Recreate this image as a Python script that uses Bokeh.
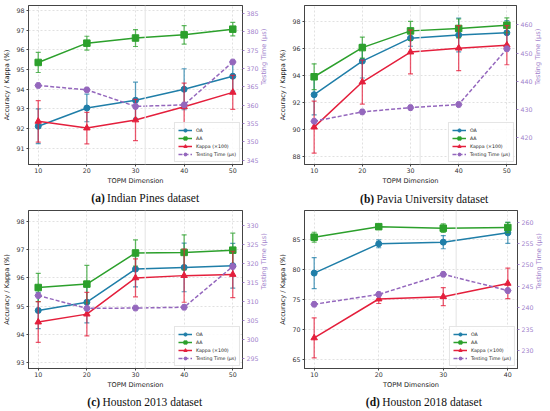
import math
from bokeh.plotting import figure
from bokeh.models import Range1d, LinearAxis, FixedTicker, Legend, LegendItem, Span
from bokeh.core.properties import value
from bokeh.layouts import column, row
from bokeh.embed import file_html
from bokeh.resources import INLINE

# ---------------- data ----------------
dims = [10, 20, 30, 40, 50]
dims_2018 = [10, 20, 30, 40]
marked_dim = 32

# (a) Indian Pines
ip_oa = [92.12, 93.05, 93.44, 94.00, 94.66]
ip_oa_err = [0.88, 0.70, 0.92, 1.04, 0.76]
ip_aa = [95.36, 96.34, 96.60, 96.76, 97.05]
ip_aa_err = [0.51, 0.35, 0.43, 0.47, 0.34]
ip_kappa = [92.37, 92.03, 92.44, 93.11, 93.84]
ip_kappa_err = [1.05, 0.80, 1.05, 1.20, 0.86]
ip_time = [365.4, 364.2, 359.7, 360.1, 371.8]

# (b) Pavia University
pu_oa = [92.55, 95.04, 96.74, 96.97, 97.14]
pu_oa_err = [1.50, 1.25, 0.60, 1.25, 0.90]
pu_aa = [93.88, 96.04, 97.28, 97.46, 97.70]
pu_aa_err = [0.96, 0.78, 0.70, 0.70, 0.55]
pu_kappa = [90.15, 93.49, 95.71, 96.00, 96.22]
pu_kappa_err = [1.93, 1.63, 1.62, 1.67, 1.45]
pu_time = [425.9, 429.2, 430.7, 431.8, 451.5]

# (c) Houston 2013
h13_oa = [94.85, 95.14, 96.31, 96.37, 96.43]
h13_oa_err = [0.64, 0.73, 0.63, 0.86, 0.79]
h13_aa = [95.66, 95.78, 96.88, 96.90, 96.98]
h13_aa_err = [0.50, 0.66, 0.46, 0.62, 0.60]
h13_kappa = [94.44, 94.72, 96.00, 96.08, 96.12]
h13_kappa_err = [0.72, 0.77, 0.67, 0.94, 0.82]
h13_time = [311.6, 308.2, 308.3, 308.5, 319.3]

# (d) Houston 2018
h18_oa = [79.44, 84.33, 84.61, 86.17]
h18_oa_err = [2.60, 0.65, 1.10, 1.75]
h18_aa = [85.44, 87.20, 86.94, 87.06]
h18_aa_err = [0.83, 0.30, 0.72, 0.86]
h18_kappa = [68.61, 75.11, 75.50, 77.72]
h18_kappa_err = [3.35, 0.75, 1.50, 2.55]
h18_time = [240.8, 243.1, 247.8, 244.0]

# tick labels
ticks_a_left = [91, 92, 93, 94, 95, 96, 97, 98]
ticks_a_right = [345, 350, 355, 360, 365, 370, 375, 380, 385]
ticks_b_left = [88, 90, 92, 94, 96, 98]
ticks_b_right = [420, 430, 440, 450, 460]
ticks_c_left = [93, 94, 95, 96, 97, 98]
ticks_c_right = [295, 300, 305, 310, 315, 320, 325, 330]
ticks_d_left = [65, 70, 75, 80, 85]
ticks_d_right = [230, 235, 240, 245, 250, 255, 260]

series_labels = ["OA", "AA", "Kappa (\u00d7100)", "Testing Time (\u03bcs)"]
captions = [("(a)", "Indian Pines dataset"), ("(b)", "Pavia University dataset"),
            ("(c)", "Houston 2013 dataset"), ("(d)", "Houston 2018 dataset")]

# ---------------- style ----------------
OA_C = "#1f7ea8"
AA_C = "#2ca02c"
KA_C = "#e41f3c"
TT_C = "#9467bd"
TT_AX = "#a182cc"
FONT = "DejaVu Sans"
SERIF = "Liberation Serif"


def style_axis(ax, label_color, tick_label_color, tick_color):
    ax.major_label_text_font = FONT
    ax.major_label_text_font_size = "6.3px"
    ax.major_label_text_color = tick_label_color
    ax.axis_label_text_font = FONT
    ax.axis_label_text_font_size = "6.6px"
    ax.axis_label_text_font_style = "normal"
    ax.axis_label_text_color = label_color
    ax.minor_tick_line_color = None
    ax.major_tick_out = 2
    ax.major_tick_in = 0
    ax.major_tick_line_color = tick_color
    ax.axis_line_color = "#444444"
    ax.major_label_standoff = 2
    ax.axis_label_standoff = 2


def panel(xs, oa, oa_e, aa, aa_e, ka, ka_e, tt, xr, yr, tr, yt, tt_ticks,
          size, borders):
    w, h = size
    left, right, top, bottom = borders
    p = figure(width=w, height=h, x_range=Range1d(*xr), y_range=Range1d(*yr),
               output_backend="svg", toolbar_location=None,
               min_border_left=left, min_border_right=right,
               min_border_top=top, min_border_bottom=bottom)
    p.title.visible = False
    p.outline_line_color = "#444444"
    p.outline_line_width = 1
    p.extra_y_ranges = {"t": Range1d(*tr)}

    p.xaxis.ticker = FixedTicker(ticks=list(xs))
    p.yaxis.ticker = FixedTicker(ticks=yt)
    p.xaxis.axis_label = "TOPM Dimension"
    p.yaxis.axis_label = "Accuracy / Kappa (%)"
    style_axis(p.xaxis[0], "#222222", "#333333", "#444444")
    style_axis(p.yaxis[0], "#222222", "#333333", "#444444")
    p.xaxis.major_label_standoff = 1
    p.xaxis.axis_label_standoff = 1

    rax = LinearAxis(y_range_name="t", ticker=FixedTicker(ticks=tt_ticks),
                     axis_label="Testing Time (\u03bcs)")
    style_axis(rax, TT_AX, TT_AX, TT_AX)
    rax.axis_label_orientation = math.pi / 2
    p.add_layout(rax, "right")

    for g in (p.xgrid[0], p.ygrid[0]):
        g.grid_line_color = "#d4d4d4"
        g.grid_line_dash = "2 2"
        g.grid_line_width = 0.7
    p.xgrid.ticker = FixedTicker(ticks=list(xs))
    p.ygrid.ticker = FixedTicker(ticks=yt)

    p.add_layout(Span(location=marked_dim, dimension="height",
                      line_color="#e8e8e8", line_width=1.2))

    items = []
    specs = [(oa, oa_e, OA_C, "circle", 6), (aa, aa_e, AA_C, "square", 6.5),
             (ka, ka_e, KA_C, "triangle", 6.5)]
    for (vals, errs, col, mk, sz), lab in zip(specs, series_labels[:3]):
        lo = [v - e for v, e in zip(vals, errs)]
        hi = [v + e for v, e in zip(vals, errs)]
        p.segment(x0=xs, y0=lo, x1=xs, y1=hi, line_color=col, line_width=1.3, line_alpha=0.75)
        p.scatter(x=xs, y=lo, marker="dash", size=5, line_color=col, line_width=1.2, line_alpha=0.75)
        p.scatter(x=xs, y=hi, marker="dash", size=5, line_color=col, line_width=1.2, line_alpha=0.75)
        ln = p.line(x=xs, y=vals, line_color=col, line_width=1.5)
        pts = p.scatter(x=xs, y=vals, marker=mk, size=sz, fill_color=col, line_color=col)
        items.append(LegendItem(label=lab, renderers=[ln, pts]))

    tl = p.line(x=xs, y=tt, line_color=TT_C, line_width=1.5, line_dash="4 2",
                y_range_name="t")
    tp = p.scatter(x=xs, y=tt, marker="hex", size=6.5, fill_color=TT_C, line_color=TT_C,
                   y_range_name="t")
    items.append(LegendItem(label=series_labels[3], renderers=[tl, tp]))

    leg = Legend(items=items, location="bottom_right")
    leg.label_text_font = FONT
    leg.label_text_font_size = "4.7px"
    leg.label_text_color = "#222222"
    leg.label_height = 8
    leg.glyph_height = 8
    leg.glyph_width = 14
    leg.label_standoff = 4
    leg.spacing = 0
    leg.padding = 3
    leg.margin = 2
    leg.border_line_color = "#cccccc"
    leg.border_line_width = 0.8
    leg.background_fill_alpha = 0.85
    p.add_layout(leg)
    return p


def caption(w, h, cap, split, ypos):
    tag, text = cap
    c = figure(width=w, height=h, x_range=Range1d(0, w), y_range=Range1d(0, h),
               output_backend="svg", toolbar_location=None, min_border=0,
               x_axis_location=None, y_axis_location=None)
    c.title.visible = False
    c.grid.visible = False
    c.outline_line_color = None
    c.text(x=[split], y=[ypos], text=[tag], text_font=value(SERIF), text_font_size="11.5px",
           text_font_style="bold", text_align="right", text_baseline="middle",
           text_color="#111111")
    c.text(x=[split + 3], y=[ypos], text=[text], text_font=value(SERIF),
           text_font_size="11.5px", text_align="left", text_baseline="middle",
           text_color="#111111")
    return c


pa = panel(dims, ip_oa, ip_oa_err, ip_aa, ip_aa_err, ip_kappa, ip_kappa_err, ip_time,
           (8, 52), (90.18, 98.25), (343.85, 387.2), ticks_a_left, ticks_a_right,
           (275, 187), (25, 33, 5, 19))
pb = panel(dims, pu_oa, pu_oa_err, pu_aa, pu_aa_err, pu_kappa, pu_kappa_err, pu_time,
           (8, 52), (87.38, 99.16), (410.6, 466.8), ticks_b_left, ticks_b_right,
           (274, 187), (29, 33, 5, 23))
pc = panel(dims, h13_oa, h13_oa_err, h13_aa, h13_aa_err, h13_kappa, h13_kappa_err, h13_time,
           (8, 52), (92.8, 98.38), (292.3, 334.1), ticks_c_left, ticks_c_right,
           (275, 186), (25, 33, 5, 19))
pd_ = panel(dims_2018, h18_oa, h18_oa_err, h18_aa, h18_aa_err, h18_kappa, h18_kappa_err, h18_time,
            (8.5, 41.5), (63.5, 89.9), (225.8, 262.7), ticks_d_left, ticks_d_right,
            (274, 186), (29, 27, 5, 23))

ca = caption(275, 18, captions[0], 98, 8)
cb = caption(274, 18, captions[1], 90, 7)
cc = caption(275, 19, captions[2], 92, 9)
cd = caption(274, 19, captions[3], 97, 9)

layout = column(row(column(pa, ca), column(pb, cb)), row(column(pc, cc), column(pd_, cd)))
open("out.html", "w").write(file_html(layout, INLINE))
